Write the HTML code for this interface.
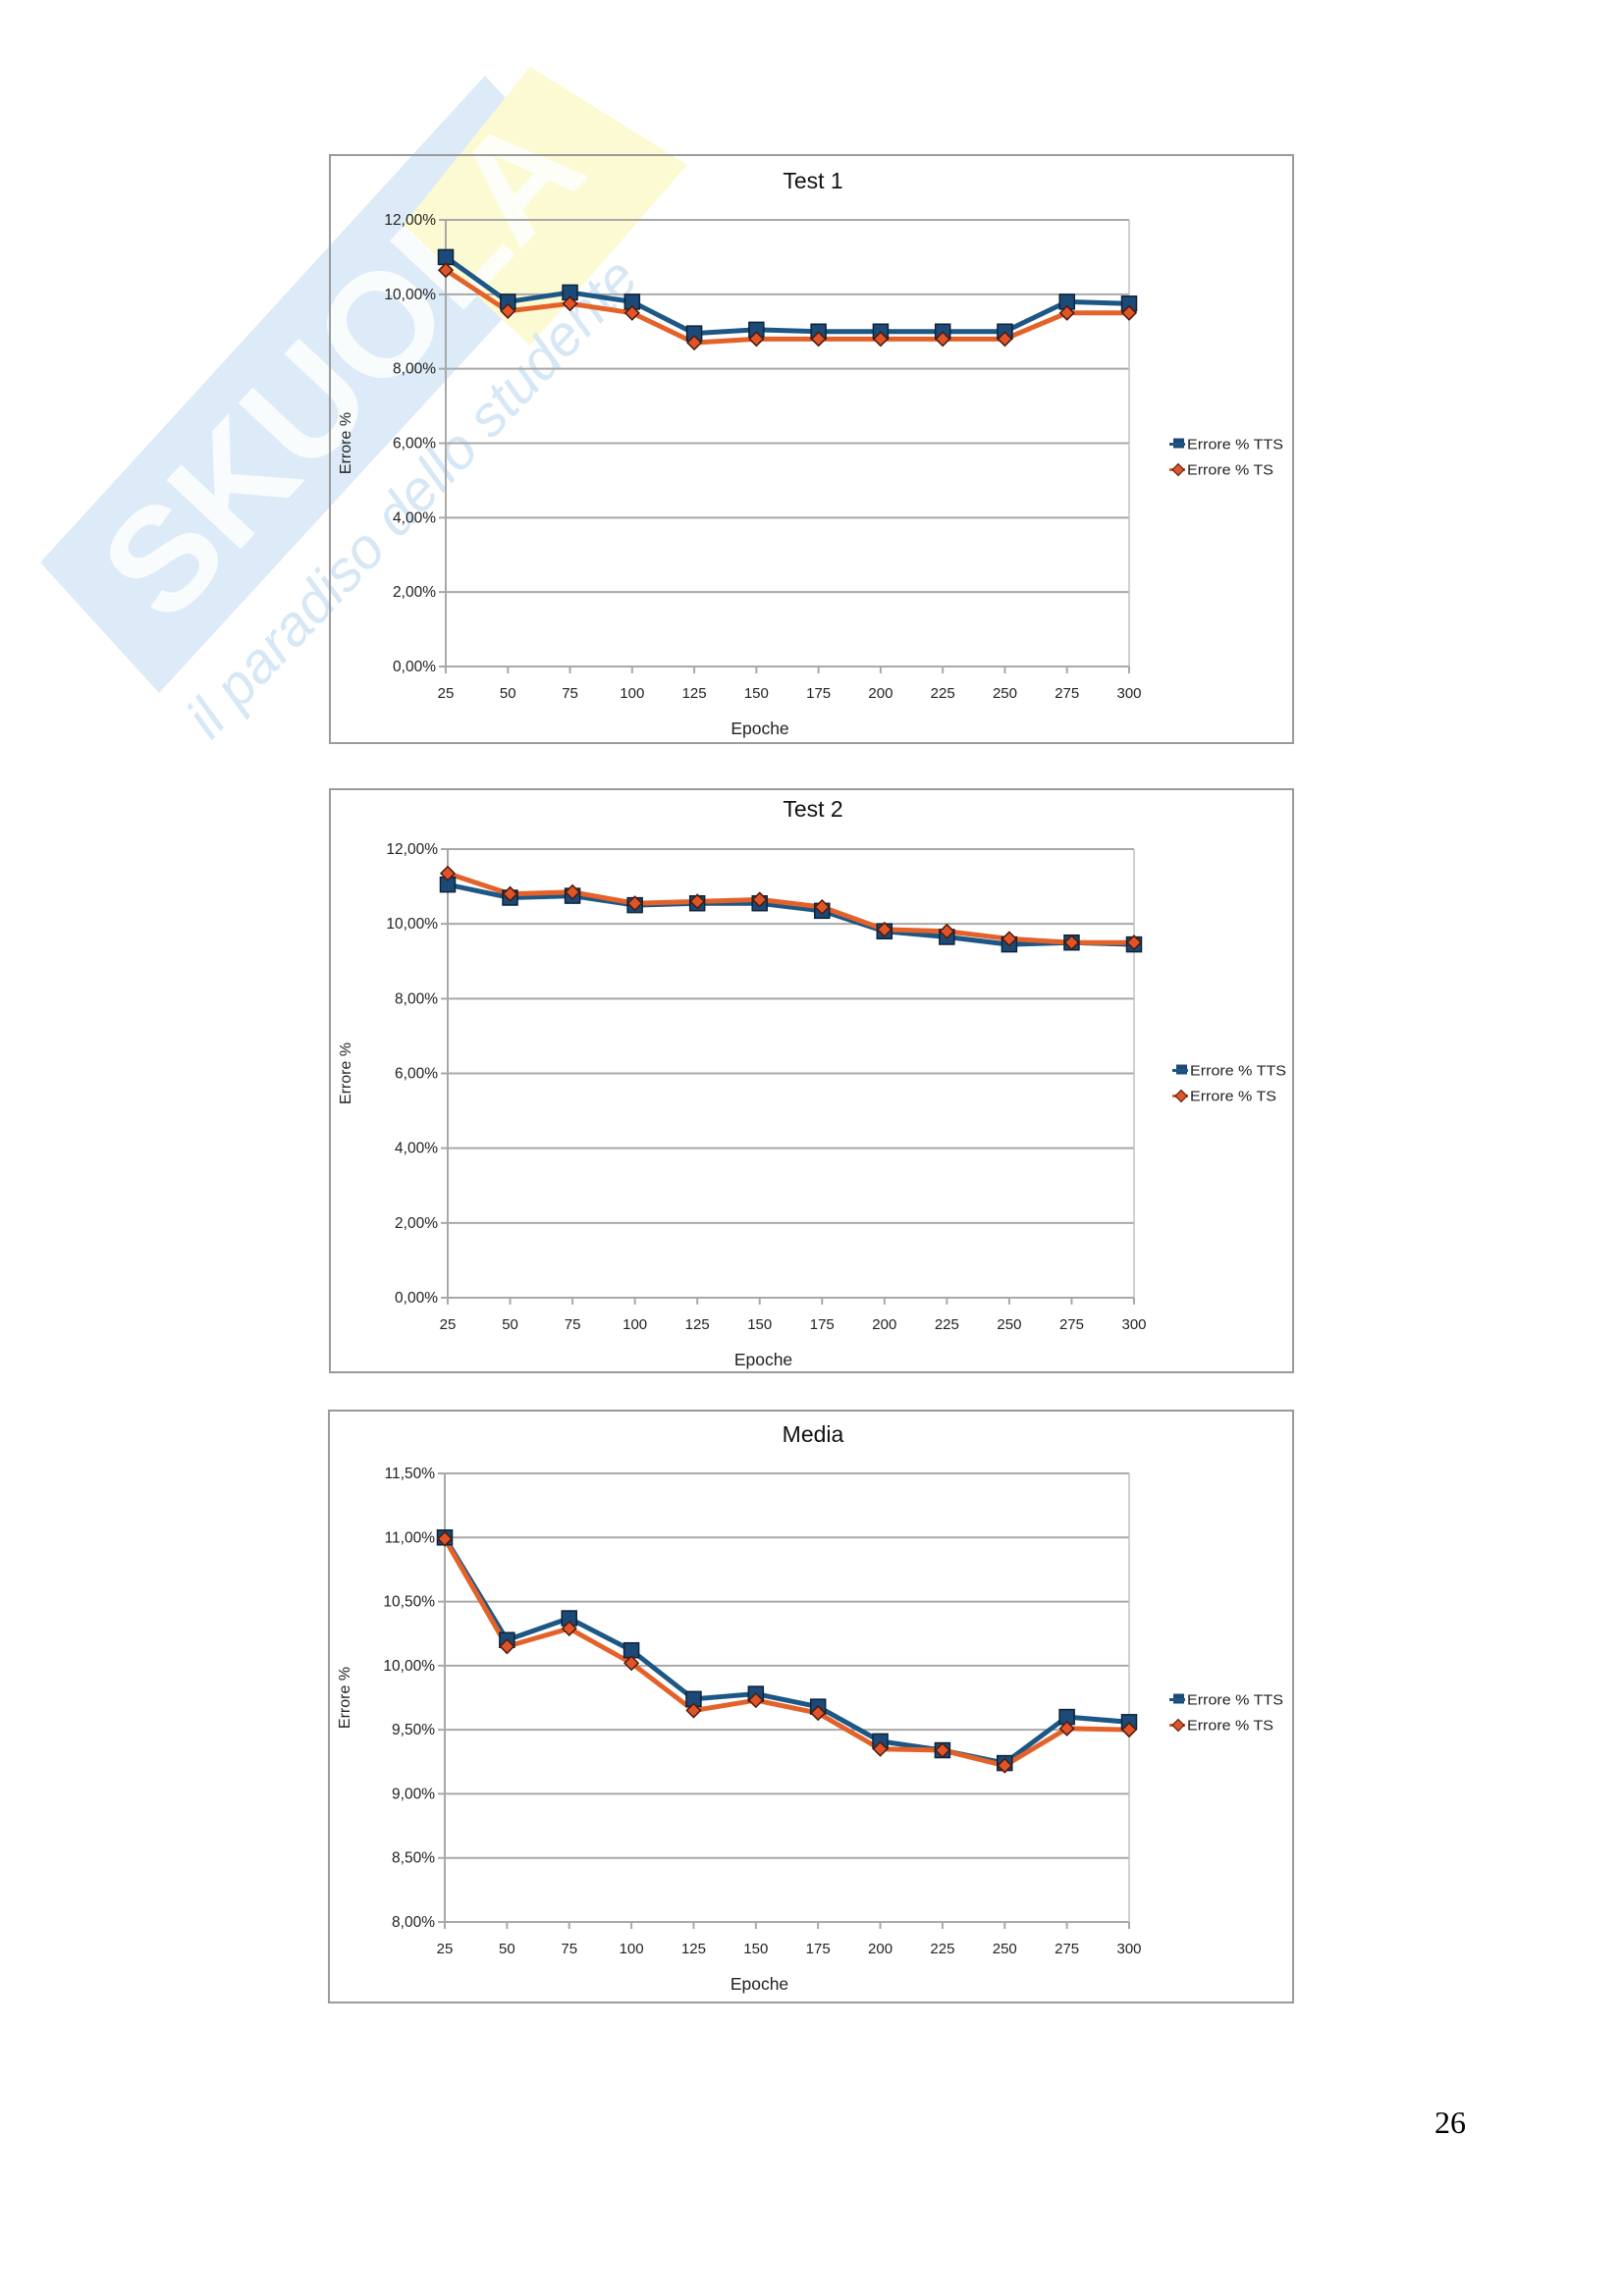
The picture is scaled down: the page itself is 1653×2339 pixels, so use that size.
<!DOCTYPE html>
<html><head><meta charset="utf-8"><style>
html,body{margin:0;padding:0;background:#fff;}
body{width:1653px;height:2339px;position:relative;overflow:hidden;font-family:"Liberation Sans",sans-serif;}
svg{position:absolute;left:0;top:0;}
</style></head><body>
<svg id="s" width="1653" height="2339" xmlns="http://www.w3.org/2000/svg">
<g id="wm">
<polygon points="41,573 494,77 617,210 162,706" fill="#dcebf7"/>
<polygon points="540,68 700,168 540,352 410,230" fill="#fcfad2"/>
<text x="0" y="0" transform="translate(170,640) rotate(-47)" font-family="Liberation Sans" font-weight="bold" font-size="150" fill="#ffffff" opacity="0.85">SKUOLA</text>
<text x="0" y="0" transform="translate(215,755) rotate(-47)" font-family="Liberation Sans" font-style="italic" font-size="58" fill="#d6e7f5">il paradiso dello studente</text>
</g>
<text x="1461" y="2173" font-family="Liberation Serif" font-size="32" fill="#000">26</text>
</svg>
<script>
const NS="http://www.w3.org/2000/svg";
const s=document.getElementById('s');
function el(t,a,txt){const e=document.createElementNS(NS,t);for(const k in a)e.setAttribute(k,a[k]);if(txt!==undefined)e.textContent=txt;s.appendChild(e);return e;}
const X=[25,50,75,100,125,150,175,200,225,250,275,300];
function chart(c){
 el('rect',{x:c.bx,y:c.by,width:c.bw,height:c.bh,fill:'none',stroke:'#9a9a9a','stroke-width':2});
 el('text',{x:828,y:c.ty,'text-anchor':'middle','font-size':23,fill:'#111'},c.title);
 const n=c.ticks.length;
 c.ticks.forEach((t,i)=>{const y=c.py0+(c.py1-c.py0)*i/(n-1);
  el('line',{x1:c.px0-7,x2:c.px1,y1:y,y2:y,stroke:'#a8a8a8','stroke-width':2});
  el('text',{x:c.px0-10,y:y+5,'text-anchor':'end','font-size':15.5,fill:'#222'},t);});
 el('line',{x1:c.px0,x2:c.px0,y1:c.py0,y2:c.py1+7,stroke:'#a8a8a8','stroke-width':2});
 el('line',{x1:c.px1,x2:c.px1,y1:c.py0,y2:c.py1,stroke:'#c0c0c0','stroke-width':1.5});
 const dx=(c.px1-c.px0)/11;
 X.forEach((v,i)=>{const x=c.px0+dx*i;
  el('line',{x1:x,x2:x,y1:c.py1,y2:c.py1+7,stroke:'#a8a8a8','stroke-width':2});
  el('text',{x:x,y:c.py1+32,'text-anchor':'middle','font-size':15,fill:'#222'},String(v));});
 el('text',{x:(c.px0+c.px1)/2-28,y:c.py1+69,'text-anchor':'middle','font-size':17.5,fill:'#222'},'Epoche');
 const cy=(c.py0+c.py1)/2;
 el('text',{x:0,y:0,transform:`translate(${c.bx+21},${cy}) rotate(-90)`,'text-anchor':'middle','font-size':16,fill:'#222'},'Errore %');
 const Y=v=>c.py1-(v-c.min)/(c.max-c.min)*(c.py1-c.py0);
 const pts=a=>a.map((v,i)=>(c.px0+dx*i)+','+Y(v)).join(' ');
 el('polyline',{points:pts(c.a),fill:'none',stroke:'#1d5785','stroke-width':5,'stroke-linejoin':'round'});
 el('polyline',{points:pts(c.b),fill:'none',stroke:'#e4622a','stroke-width':5,'stroke-linejoin':'round'});
 c.a.forEach((v,i)=>{const x=c.px0+dx*i,y=Y(v);el('rect',{x:x-7.5,y:y-7.5,width:15,height:15,fill:'#1c4a78',stroke:'#0e2236','stroke-width':1.5});});
 c.b.forEach((v,i)=>{const x=c.px0+dx*i,y=Y(v);el('polygon',{points:`${x},${y-7} ${x+7},${y} ${x},${y+7} ${x-7},${y}`,fill:'#e0542a',stroke:'#4a1a0a','stroke-width':1.5});});
 const lx=c.lx, ly=cy-5+c.ldy;
 el('rect',{x:lx-6,y:ly-6,width:11,height:10,fill:'#1c4a78'});
 el('line',{x1:lx-10,x2:lx+6,y1:ly,y2:ly,stroke:'#1d5785','stroke-width':3});
 el('text',{x:lx+8,y:ly+5,'font-size':15,fill:'#222',textLength:98,lengthAdjust:'spacingAndGlyphs'},'Errore % TTS');
 el('line',{x1:lx-10,x2:lx+6,y1:ly+26,y2:ly+26,stroke:'#e4622a','stroke-width':3});
 el('polygon',{points:`${lx-1},${ly+20} ${lx+5},${ly+26} ${lx-1},${ly+32} ${lx-7},${ly+26}`,fill:'#e0542a',stroke:'#4a1a0a'});
 el('text',{x:lx+8,y:ly+31,'font-size':15,fill:'#222',textLength:88,lengthAdjust:'spacingAndGlyphs'},'Errore % TS');
}
const pct=['12,00%','10,00%','8,00%','6,00%','4,00%','2,00%','0,00%'];
chart({bx:336,by:158,bw:981,bh:599,px0:454,px1:1150,py0:224,py1:679,ty:192,title:'Test 1',ticks:pct,min:0,max:12,lx:1201,ldy:6,
 a:[11.0,9.8,10.05,9.8,8.95,9.05,9.0,9.0,9.0,9.0,9.8,9.75],
 b:[10.65,9.55,9.75,9.5,8.7,8.8,8.8,8.8,8.8,8.8,9.5,9.5]});
chart({bx:336,by:804,bw:981,bh:594,px0:456,px1:1155,py0:865,py1:1322,ty:832,title:'Test 2',ticks:pct,min:0,max:12,lx:1204,ldy:2,
 a:[11.05,10.7,10.75,10.5,10.55,10.55,10.35,9.8,9.65,9.45,9.5,9.45],
 b:[11.35,10.8,10.85,10.55,10.6,10.65,10.45,9.85,9.8,9.6,9.5,9.5]});
chart({bx:335,by:1437,bw:982,bh:603,px0:453,px1:1150,py0:1501,py1:1958,ty:1469,title:'Media',
 ticks:['11,50%','11,00%','10,50%','10,00%','9,50%','9,00%','8,50%','8,00%'],min:8,max:11.5,lx:1201,ldy:7,
 a:[11.0,10.2,10.37,10.12,9.74,9.78,9.68,9.41,9.34,9.24,9.6,9.56],
 b:[10.99,10.15,10.29,10.02,9.65,9.73,9.63,9.35,9.34,9.22,9.51,9.5]});
</script>
</body></html>
